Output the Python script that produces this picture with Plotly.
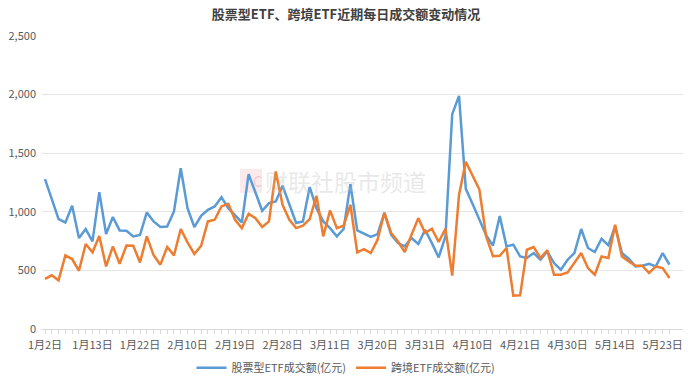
import plotly.graph_objects as go

# ---- data ----
jan_days = [2, 3, 6, 7, 8, 9, 10, 13, 14, 15, 16, 17, 20, 21, 22, 23, 24, 27]
feb_days = [5, 6, 7, 10, 11, 12, 13, 14, 17, 18, 19, 20, 21, 24, 25, 26, 27, 28]
mar_days = [3, 4, 5, 6, 7, 10, 11, 12, 13, 14, 17, 18, 19, 20, 21, 24, 25, 26, 27, 28, 31]
apr_days = [1, 2, 3, 7, 8, 9, 10, 11, 14, 15, 16, 17, 18, 21, 22, 23, 24, 25, 28, 29, 30]
may_days = [6, 7, 8, 9, 12, 13, 14, 15, 16, 19, 20, 21, 22, 23, 26]

dates = ([f"1月{d}日" for d in jan_days] + [f"2月{d}日" for d in feb_days] +
         [f"3月{d}日" for d in mar_days] + [f"4月{d}日" for d in apr_days] +
         [f"5月{d}日" for d in may_days])

stock_etf = [1279, 1108, 938, 909, 1051, 776, 853, 747, 1168, 810,
             955, 841, 838, 790, 802, 995, 918, 870, 875, 1003,
             1372, 1031, 870, 966, 1017, 1046, 1125, 1031, 966, 909,
             1321, 1160, 1009, 1074, 1088, 1222, 1060, 904, 918, 1211,
             1031, 918, 861, 790, 853, 1236, 841, 810, 785, 810,
             990, 804, 733, 705, 776, 725, 847, 733, 611, 790,
             1833, 1989, 1196, 1066, 930, 800, 711, 963, 705, 719,
             620, 606, 648, 591, 662, 563, 506, 591, 648, 853,
             691, 657, 770, 715, 875, 648, 600, 534, 540, 557,
             534, 648, 549]

cross_etf = [427, 458, 415, 628, 597, 497, 725, 654, 793, 534,
             705, 557, 713, 710, 568, 790, 630, 549, 699, 628,
             853, 739, 640, 710, 918, 932, 1046, 1068, 932, 861,
             983, 946, 870, 918, 1344, 1060, 932, 861, 881, 938,
             1137, 790, 1012, 861, 881, 1060, 654, 682, 648, 762,
             992, 819, 747, 657, 804, 946, 819, 855, 742, 855,
             455, 1145, 1427, 1305, 1190, 790, 622, 625, 691, 285,
             287, 676, 699, 606, 671, 463, 463, 483, 563, 648,
             520, 463, 619, 606, 889, 619, 577, 540, 540, 478,
             534, 520, 435]

series_names = ["股票型ETF成交额(亿元)", "跨境ETF成交额(亿元)"]
tick_labels = dates[::7]
title_text = "股票型ETF、跨境ETF近期每日成交额变动情况"
watermark = "财联社股市频道"

FONT = "Noto Sans CJK SC, Microsoft YaHei, sans-serif"
GRAY = "#595959"

fig = go.Figure()
fig.add_trace(go.Scatter(x=dates, y=stock_etf, mode="lines", name=series_names[0],
                         line=dict(color="#5B9BD5", width=2.5)))
fig.add_trace(go.Scatter(x=dates, y=cross_etf, mode="lines", name=series_names[1],
                         line=dict(color="#ED7D31", width=2.5)))

ticktext = [d if d in tick_labels else "" for d in dates]

fig.update_layout(
    width=692, height=383,
    margin=dict(l=42, r=9, t=36, b=54, autoexpand=False),
    paper_bgcolor="white", plot_bgcolor="white",
    font=dict(family=FONT, size=11, color=GRAY),
    title=dict(text=f"<b>{title_text}</b>", x=0.5, xanchor="center", y=0.963, yanchor="middle",
               font=dict(family=FONT, size=13, color="#404040")),
    showlegend=True,
    legend=dict(orientation="h", x=(346 - 42) / 641, xanchor="center", y=-0.132, yanchor="middle",
                font=dict(family=FONT, size=11, color=GRAY), itemwidth=30,
                bgcolor="rgba(0,0,0,0)", tracegroupgap=0),
    xaxis=dict(type="category", categoryorder="array", categoryarray=dates,
               range=[-0.442, 94.0], tickmode="array", tickvals=dates, ticktext=ticktext,
               ticks="outside", ticklen=4, tickcolor="#d9d9d9", showgrid=False,
               showline=True, linecolor="#d9d9d9", linewidth=1, zeroline=False,
               automargin=False, ticklabelstandoff=2,
               tickfont=dict(family=FONT, size=11, color=GRAY), tickangle=0),
    yaxis=dict(range=[0, 2500], tick0=0, dtick=500, tickformat=",", showgrid=True,
               gridcolor="#e6e6e6", gridwidth=1, zeroline=False, showline=False,
               ticks="", automargin=False, ticklabelstandoff=5,
               tickfont=dict(family=FONT, size=11, color=GRAY)),
)

# watermark
fig.add_shape(type="rect", xref="paper", yref="paper",
              x0=(240 - 42) / 641, x1=(262 - 42) / 641,
              y0=(329.4 - 193) / 293.4, y1=(329.4 - 169) / 293.4,
              fillcolor="rgba(240,170,180,0.25)", line=dict(width=0), layer="below")
fig.add_annotation(text="C", xref="paper", yref="paper",
                   x=(251 - 42) / 641, y=(329.4 - 181) / 293.4, showarrow=False,
                   font=dict(family=FONT, size=15, color="rgba(230,140,150,0.35)"))
fig.add_annotation(text=watermark, xref="paper", yref="paper",
                   x=(345 - 42) / 641, y=(329.4 - 181) / 293.4, showarrow=False,
                   font=dict(family=FONT, size=23, color="rgba(190,190,190,0.35)"))

fig.write_html("out.html", config={"displayModeBar": False},
               post_script="document.body.style.margin='0';document.body.style.overflow='hidden';")
